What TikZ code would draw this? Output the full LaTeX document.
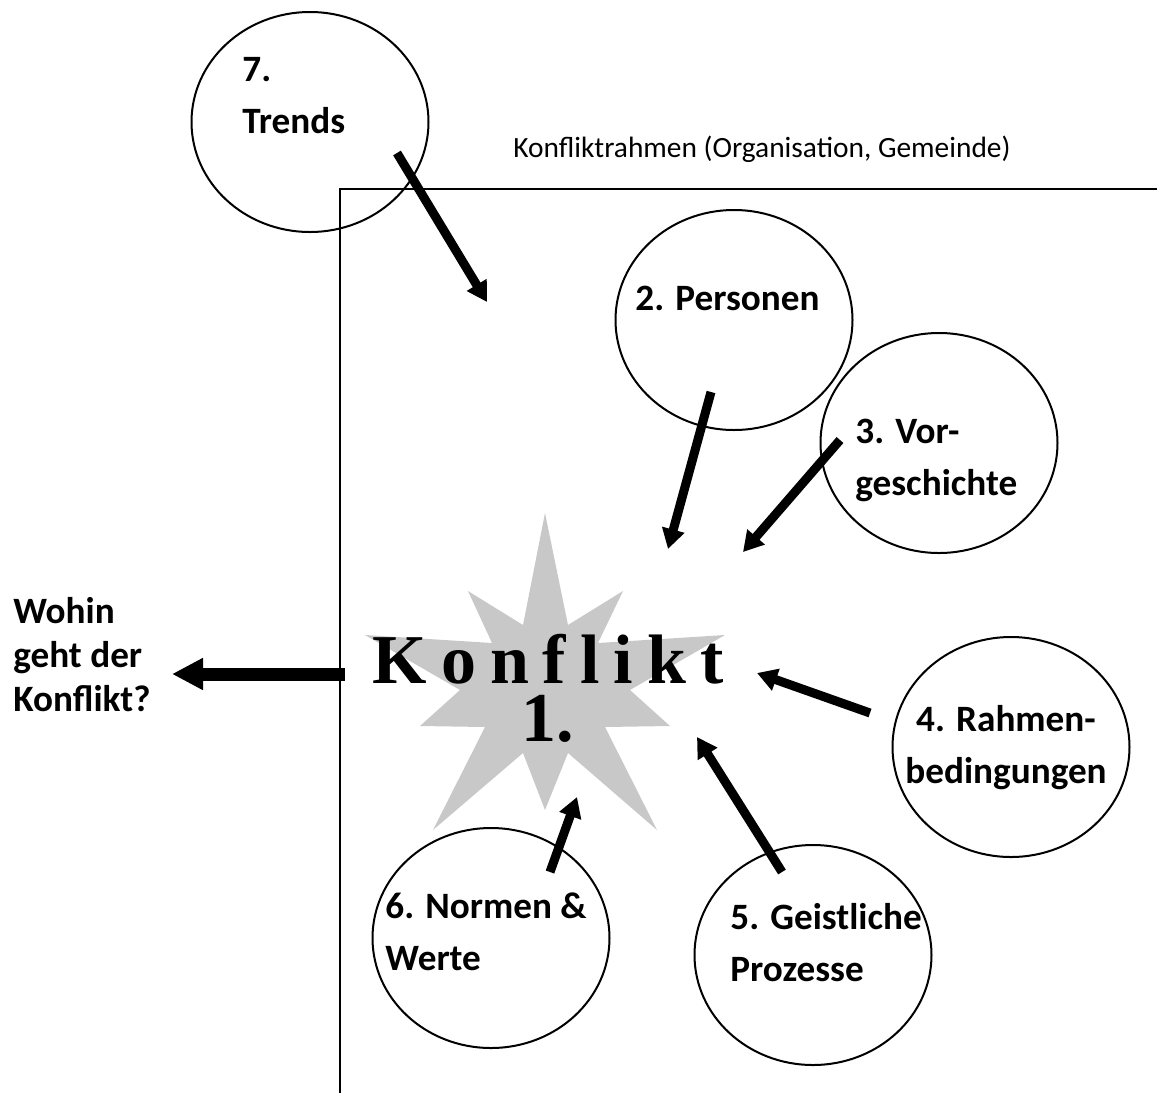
\documentclass[tikz,border=0pt]{standalone}
\usepackage{fontspec}
\setmainfont{Carlito}
\newfontfamily\konfliktfont[LetterSpace=20]{Liberation Serif}
\newfontfamily\nummerfont{Liberation Serif}
\usetikzlibrary{shapes.geometric, arrows.meta}

\definecolor{sterngrau}{HTML}{C8C8C8}

\begin{document}
\begin{tikzpicture}[x=0.5pt, y=-0.5pt,
  kreis/.style={ellipse, draw, line width=1pt, minimum width=118.5pt, minimum height=110pt, inner sep=0pt},
  etikett/.style={anchor=base west, align=left, inner sep=0pt, font=\bfseries\fontsize{18.6}{26}\selectfont},
  pfeil/.style={line width=4.5pt, -{Triangle[length=10pt, width=11pt]}},
  grosspfeil/.style={line width=6.5pt, -{Triangle[length=15.5pt, width=15pt]}}]
\useasboundingbox (0,0) rectangle (1157,1093);

% Rahmen (Organisation, Gemeinde)
\draw[line width=1pt] (340,1093) -- (340,189) -- (1157,189);
\node[anchor=base west, inner sep=0pt, font=\fontsize{14.7}{18}\selectfont] (titel) at (513,157) {Konfliktrahmen (Organisation, Gemeinde)};

% Stern in der Mitte
\fill[sterngrau] (545,513) -- (568,625) -- (623,591) -- (598,643) -- (725,635) -- (630,690)
  -- (670,726) -- (605,727) -- (657,830) -- (568,753) -- (545,810) -- (523,753) -- (433,830)
  -- (485,727) -- (420,726) -- (460,690) -- (365,635) -- (492,643) -- (468,591) -- (523,625) -- cycle;
\node[anchor=base, align=center, inner sep=0pt, font=\bfseries\fontsize{35}{29}\selectfont] (konflikt) at (548,741) {{\konfliktfont Konflikt}\\{\nummerfont 1.}};

% Die Kreise
\node[kreis] (trends) at (310,122) {};
\node[kreis] (pers) at (734,320) {};
\node[kreis] (vorg) at (939,443) {};
\node[kreis] (rahmen) at (1011,747) {};
\node[kreis] (geist) at (813,955) {};
\node[kreis] (normen) at (491,938) {};

% Beschriftungen (Anker = letzte Zeile)
\node[etikett] (trendsText) at (242,133) {7.\\Trends};
\node[etikett] (persText) at (635,310) {2. Personen};
\node[etikett] (vorgText) at (855,495) {3. Vor-\\geschichte};
\node[etikett, anchor=base, align=center] (rahmenText) at (1006,783) {4. Rahmen-\\bedingungen};
\node[etikett] (geistText) at (730,981) {5. Geistliche\\Prozesse};
\node[etikett] (normenText) at (385,970) {6. Normen \&\\Werte};
\node[etikett, font=\bfseries\fontsize{18.6}{22}\selectfont] (wohin) at (13,711) {Wohin\\geht der\\Konflikt?};

% Pfeile
\coordinate (trendsA) at (397,153);
\coordinate (trendsB) at (487,302);
\coordinate (persA) at (711,392);
\coordinate (persB) at (668,549);
\coordinate (vorgA) at (840,440);
\coordinate (vorgB) at (743,552);
\coordinate (rahmenA) at (870,713);
\coordinate (rahmenB) at (757,673);
\coordinate (geistA) at (782,872);
\coordinate (geistB) at (697,737);
\coordinate (normenA) at (550,872);
\coordinate (normenB) at (577,797);
\coordinate (wohinA) at (345,674);
\coordinate (wohinB) at (172,674);
\draw[pfeil] (trendsA) -- (trendsB);
\draw[pfeil] (persA) -- (persB);
\draw[pfeil] (vorgA) -- (vorgB);
\draw[pfeil] (rahmenA) -- (rahmenB);
\draw[pfeil] (geistA) -- (geistB);
\draw[pfeil] (normenA) -- (normenB);
\draw[grosspfeil] (wohinA) -- (wohinB);
\end{tikzpicture}
\end{document}
